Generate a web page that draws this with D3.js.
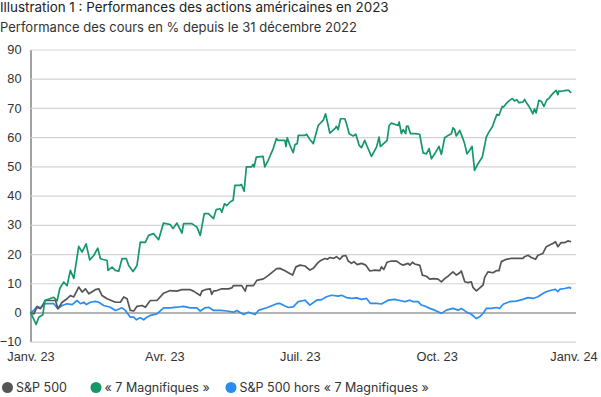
<!DOCTYPE html>
<html lang="fr">
<head>
  <meta charset="UTF-8">
  <title>Illustration 1</title>
  <script src="https://cdn.jsdelivr.net/npm/d3@7"></script>
  <style>
    body { margin: 0; background: #fff; }
    svg { font-family: Inter, "Liberation Sans", sans-serif; }
    .title { font-size: 13.4px; fill: #222; }
    .subtitle { font-size: 13px; fill: #333; }
    .tick text { font-size: 12.8px; fill: #333; }
    .legend text { font-size: 12.5px; fill: #333; }
  </style>
</head>
<body>
<script>
  // day offset from 1 Jan 2023 and performance in %
  const sp500 = [[0,0],[2.2,-0.5],[4.4,1.8],[6.7,1.3],[10,4.1],[16.8,4.1],[18.4,1.3],[21.3,3.5],[24.6,4.7],[26.8,5.8],[29.1,5.3],[32.4,8.7],[34.7,7.0],[36.9,8.1],[39.2,6.4],[43.6,7.8],[45.9,8.1],[48.1,5.8],[51.5,4.7],[57.1,3.5],[60.4,3.5],[62.7,5.3],[64.9,4.7],[67.1,0.7],[69.4,0.5],[71.6,2.1],[75,2.4],[77.2,1.8],[80.5,4.1],[85,4.1],[89.5,6.6],[93.9,7.5],[98.4,7.3],[101.8,7.8],[107.4,7.8],[109.6,7.3],[114.1,5.8],[115.2,7.3],[117.4,7.8],[120.8,8.1],[121.8,6.2],[123,7.3],[125.3,7.5],[128.6,8.1],[133.1,8.1],[135.3,8.4],[136.4,9.2],[140.4,9.2],[142,9.2],[144.3,7.3],[145.4,9.2],[149.9,9.2],[152.1,11.0],[156.6,11.5],[159.9,12.7],[165.5,15.0],
    [167.7,15.1],[171.1,14.3],[173.3,13.6],[176.2,12.8],[178.4,15.6],[181.1,16.2],[184.5,15.9],[187.8,14.5],[190.1,15.1],[192.8,16.8],[194.5,17.6],[197.9,18.5],[199.5,18.2],[201.3,18.8],[203.5,18.5],[205.7,19.1],[208,18.2],[209.8,19.3],[212,19.5],[213.6,17.6],[215.8,16.8],[217.4,17.4],[219.6,16.4],[222.5,16.8],[225.4,16.2],[228.1,14.2],[231.5,14.5],[234.8,14.3],[235.9,15.6],[237.5,14.7],[239.7,17.2],[242.6,17.6],[246,17.6],[248.2,16.8],[250.5,16.2],[253.8,16.8],[255,16.2],[256.7,17.2],[258.3,16.6],[261.7,16.1],[263.4,12.8],[266.1,12.4],[268.4,11.4],[271,11.6],[274,11.4],[276.2,10.5],[278.4,11.6],[280.7,12.4],[282.2,13.1],[284,13.9],[286.3,12.8],[288.1,13.4],[289.6,14.2],[291.9,10.5],[294.1,10.2],[296.3,10.5],[297.4,8.6],[299.7,7.4],[301.5,8.2],[304.2,9.4],[305.3,12.0],[307.5,13.9],[310.9,13.6],[313.1,14.3],[314.9,14.3],[316.5,17.4],[319.8,18.2],[323.2,18.5],[326.5,18.5],[331,18.5],[332.1,19.1],[334.4,19.6],[336.6,18.8],[339.5,18.2],[341.1,19.6],[344.4,20.2],[346.7,22.5],[348.9,23.1],[351.1,23.6],[352.9,24.2],[354.5,22.5],[356.7,23.9],[359,23.9],[361.2,24.5],[363.4,24.2]];

  const magnificent7 = [[0,0],[3.8,-4.1],[5.6,-1.6],[8.3,-0.8],[9.6,4.1],[15.6,5.2],[17.9,4.0],[19.7,8.2],[22.3,10.4],[24.6,9.2],[26.8,14.4],[29.1,11.7],[32.4,22.6],[34.7,20.7],[37.4,23.5],[39.8,18.0],[42.5,19.5],[45.2,22.0],[47,18.4],[51.5,17.8],[52.1,14.4],[54.8,15.5],[57,14.4],[59.3,14.1],[61.5,18.4],[64.4,18.4],[66,16.1],[68.9,14.0],[71.6,16.1],[73.8,24.1],[77.2,24.0],[79.4,26.4],[82.7,27.0],[86.1,24.9],[89.4,30.6],[93.9,30.1],[95.8,28.7],[98.4,30.6],[101.8,27.2],[102.9,30.4],[108.5,30.4],[111.9,29.2],[114.1,26.4],[116.8,33.8],[119.6,33.8],[123,32.1],[124.8,35.2],[127.5,35.5],[128.6,34.3],[130.4,37.2],[132,36.6],[134.2,37.8],[136.2,38.4],[137.4,43.5],[140.7,43.5],[141.8,43.8],[143.6,41.5],[145.1,49.8],[148.5,49.8],[149.6,50.7],[150.3,49.8],[151.8,53.2],[156.3,53.4],[157.5,49.8],[159.7,52.0],[163.1,56.0],[165.3,59.5],[166.4,58.9],
    [167.7,58.9],[171,58.9],[171.7,56.8],[172.6,59.8],[174.4,57.2],[176.6,54.7],[177.8,57.5],[179.3,57.8],[180,60.6],[184.5,60.6],[185.6,61.0],[187.8,59.2],[190.1,57.8],[193.4,64.0],[196.8,65.8],[198.3,68.0],[200.1,64.0],[201.2,61.4],[204.6,62.9],[205.7,63.7],[206.8,62.6],[208.4,66.3],[211.3,66.3],[212.4,64.6],[214.2,61.2],[216.9,60.4],[218.7,61.0],[220.9,57.2],[222.5,56.4],[224.7,58.9],[226.3,56.8],[229.2,53.4],[232.6,56.6],[234.3,60.0],[235.2,56.8],[239.7,58.9],[241.1,64.0],[242.6,64.8],[247.1,64.0],[247.8,65.2],[249.3,61.2],[250.5,62.6],[252.2,61.2],[252.7,63.7],[253.8,63.8],[255.4,61.2],[258.3,61.2],[261.6,61.0],[263.9,54.6],[266.1,54.3],[267.9,56.1],[269.5,52.6],[271.7,54.3],[274.6,56.8],[276.2,54.1],[278.4,59.8],[280.7,60.6],[282.9,61.2],[284,63.2],[285.1,62.6],[286.2,60.4],[288.5,62.3],[290.3,60.0],[291.8,57.8],[293.4,54.3],[295.2,55.5],[296.8,56.8],[298.5,48.6],[300.8,50.9],[303.7,53.2],[306.4,60.0],[308.2,61.8],[310.4,63.5],[312,65.8],[313.5,67.8],[314.9,67.5],[317.1,70.5],[318,70.3],[319.8,71.5],[321.6,72.4],[323.8,73.2],[325.4,72.4],[326.9,72.8],[328.3,71.8],[331,72.0],[332.1,72.9],[333.7,71.5],[335.4,70.3],[337.7,68.0],[338.8,69.7],[339.9,68.3],[341.7,72.6],[343.3,72.3],[345.1,70.5],[347.1,72.8],[348.4,73.2],[350,74.3],[352.2,75.5],[353.3,76.0],[354.5,74.5],[355.1,75.8],[356.7,75.7],[360,76.0],[361.8,76.0],[363.4,75.1]];

  const sp500ex7 = [[0,0],[2.2,0.7],[4.4,2.1],[6.7,1.6],[10,3.0],[15.7,3.0],[18.4,1.3],[21.3,2.4],[24.6,3.0],[28,2.7],[31.3,4.1],[33.6,3.0],[35.8,3.5],[37.6,2.7],[40.3,3.5],[43.6,3.8],[45.9,3.5],[49.2,2.4],[53.7,1.8],[57.1,0.7],[61.5,1.6],[63.8,0.7],[67.1,-1.6],[69.4,-1.6],[71.1,-2.5],[73.8,-1.8],[76.1,-2.5],[78.3,-1.6],[80.5,-1.0],[85,-0.5],[89.5,1.6],[93.9,1.6],[98.4,1.8],[102.9,2.1],[107.4,1.6],[111.8,1.6],[114.1,0.5],[117.4,1.6],[119.7,1.8],[123,0.7],[127.5,0.7],[132,0.5],[136.4,0.1],[138.7,0.7],[143.2,-0.7],[146.5,0.1],[151,-0.7],[153.2,0.7],[158.8,1.6],[165.5,3.0],
    [167.7,3.1],[171.1,2.2],[173.3,1.7],[176.6,1.9],[180,3.7],[184.5,4.2],[187.8,2.5],[192.3,4.2],[195.7,4.4],[199,5.4],[202.4,5.9],[206.8,5.6],[209.1,5.9],[212.4,5.1],[215.8,4.8],[219.2,5.0],[222.5,4.5],[225.9,4.8],[228.5,3.1],[232.6,3.1],[235.9,2.9],[240.4,4.2],[244.9,4.5],[248.2,4.1],[251.6,3.7],[255,4.2],[257.2,3.7],[260.5,3.7],[262.8,2.5],[265,2.2],[268.4,1.4],[271.7,0.8],[276.2,-0.3],[279.6,0.8],[284,1.4],[287.4,0.8],[289.6,1.4],[293,0.2],[296.3,-0.6],[299.7,-2.1],[301.9,-1.5],[304.6,-0.1],[306.4,1.4],[309.8,1.4],[313.1,1.7],[315.3,1.4],[318,2.9],[322,3.7],[326.5,3.9],[331,4.5],[334.4,5.1],[337.7,4.8],[341.1,5.4],[344.4,6.5],[346.7,7.1],[350,7.6],[352.9,7.9],[354.5,7.1],[355.6,7.9],[359,8.2],[362.3,8.6],[363.4,8.2]];

  const seriesNames = ["S&P 500", "« 7 Magnifiques »", "S&P 500 hors « 7 Magnifiques »"];
  const seriesColors = ["#555555", "#16976a", "#2a8cf0"];
  const yTicks = [-10, 0, 10, 20, 30, 40, 50, 60, 70, 80, 90];
  const xTickDates = ["2023-01-01", "2023-04-01", "2023-07-01", "2023-10-01", "2024-01-01"];
  const xTickLabels = ["Janv. 23", "Avr. 23", "Juil. 23", "Oct. 23", "Janv. 24"];

  const start = new Date(2023, 0, 1);
  const toDate = d => new Date(start.getTime() + d * 864e5);

  const svg = d3.select("body").append("svg")
    .attr("width", 601)
    .attr("height", 397);

  // Titles
  svg.append("text").attr("class", "title").attr("x", 0).attr("y", 11.5)
    .text("Illustration 1 : Performances des actions américaines en 2023");
  svg.append("text").attr("class", "subtitle").attr("x", 0).attr("y", 31.5)
    .text("Performance des cours en % depuis le 31 décembre 2022");

  // Scales
  const x = d3.scaleTime()
    .domain([new Date(2023, 0, 1), new Date(2024, 0, 1)])
    .range([30.5, 573.5]);
  const y = d3.scaleLinear()
    .domain([-10, 90])
    .range([341.7, 49.5]);

  // Y axis with gridlines
  const yAxis = svg.append("g")
    .attr("transform", "translate(30.5,0)")
    .call(d3.axisLeft(y).tickValues(yTicks).tickSize(-545.5).tickSizeOuter(0).tickPadding(9));
  yAxis.selectAll(".tick line")
    .attr("stroke", d => d === 0 ? "#9a9a9a" : "#d3d3d3")
    .attr("stroke-width", d => d === 0 ? 1.5 : 1.2);
  yAxis.select(".domain").attr("stroke", "#444");
  yAxis.selectAll(".tick text").style("font-family", "inherit");

  // X axis labels
  const xAxis = svg.append("g")
    .attr("transform", "translate(0,341.7)")
    .call(d3.axisBottom(x)
      .tickValues(xTickDates.map(d => new Date(d + "T00:00:00")))
      .tickSize(0).tickPadding(10)
      .tickFormat((d, i) => xTickLabels[i]));
  xAxis.select(".domain").remove();
  xAxis.selectAll(".tick text").style("font-family", "inherit");

  // Lines
  const line = d3.line()
    .x(d => x(toDate(d[0])))
    .y(d => y(d[1]));

  [sp500ex7, sp500, magnificent7].forEach((s, i) => {
    const ci = [2, 0, 1][i];
    svg.append("path")
      .datum(s)
      .attr("fill", "none")
      .attr("stroke", seriesColors[ci])
      .attr("stroke-width", 1.7)
      .attr("stroke-linejoin", "round")
      .attr("d", line);
  });

  // Legend
  const legendX = [7.5, 96, 231];
  const legend = svg.append("g").attr("class", "legend");
  seriesNames.forEach((name, i) => {
    legend.append("circle")
      .attr("cx", legendX[i]).attr("cy", 387.5).attr("r", 5.5)
      .attr("fill", seriesColors[i]);
    legend.append("text")
      .attr("x", legendX[i] + 8.5).attr("y", 392)
      .text(name);
  });
</script>
</body>
</html>
